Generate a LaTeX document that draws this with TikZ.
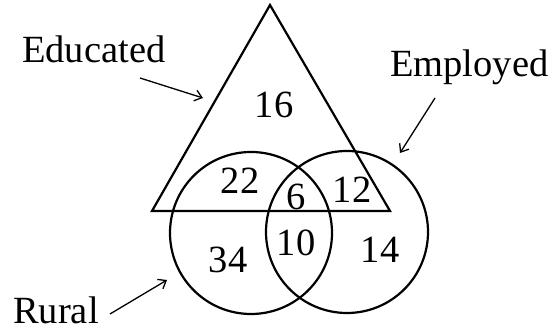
\documentclass[tikz,border=0pt]{standalone}
\usepackage{fontspec}
\setmainfont{Liberation Serif}
\usetikzlibrary{arrows.meta}
\begin{document}
\begin{tikzpicture}[x=1pt,y=1pt,
  shapeline/.style={line width=2.2pt, line join=miter},
  setcircle/.style={circle, draw, line width=2.2pt, minimum size=162pt, inner sep=0pt},
  numlbl/.style={font=\fontsize{38.5}{40}\selectfont, inner sep=0pt},
  setlbl/.style={font=\fontsize{38.5}{40}\selectfont, inner sep=0pt, anchor=base west},
  pointer/.style={line width=1.3pt, -{Straight Barb[length=7pt,width=11pt,line width=1.3pt]}}]
\useasboundingbox (0,0) rectangle (554,334);
% triangle (Educated)
\coordinate (apex) at (270,329);
\coordinate (bl) at (152,123);
\coordinate (br) at (390,123);
\draw[shapeline] (apex) -- (bl) -- (br) -- cycle;
% circles
\node[setcircle] (rural) at (251,101) {};
\node[setcircle] (employed) at (347,102) {};
% numbers
\node[numlbl] (n16) at (274,229) {16};
\node[numlbl] (n22) at (240,153) {22};
\node[numlbl] (n34) at (228,74) {34};
\node[numlbl] (n6) at (296,137) {6};
\node[numlbl] (n12) at (352,144) {12};
\node[numlbl] (n10) at (296,91) {10};
\node[numlbl] (n14) at (380,84) {14};
% labels
\node[setlbl] (educ) at (22,271) {Educated};
\node[setlbl] (empl) at (390,257) {Employed};
\node[setlbl] (rur) at (13,10) {Rural};
% pointers
\coordinate (ea) at (140,256);
\coordinate (eb) at (203,236);
\coordinate (ma) at (435,236);
\coordinate (mb) at (400,181);
\coordinate (ra) at (110,20);
\coordinate (rb) at (167,54);
\draw[pointer] (ea) -- (eb);
\draw[pointer] (ma) -- (mb);
\draw[pointer] (ra) -- (rb);
\end{tikzpicture}
\end{document}
